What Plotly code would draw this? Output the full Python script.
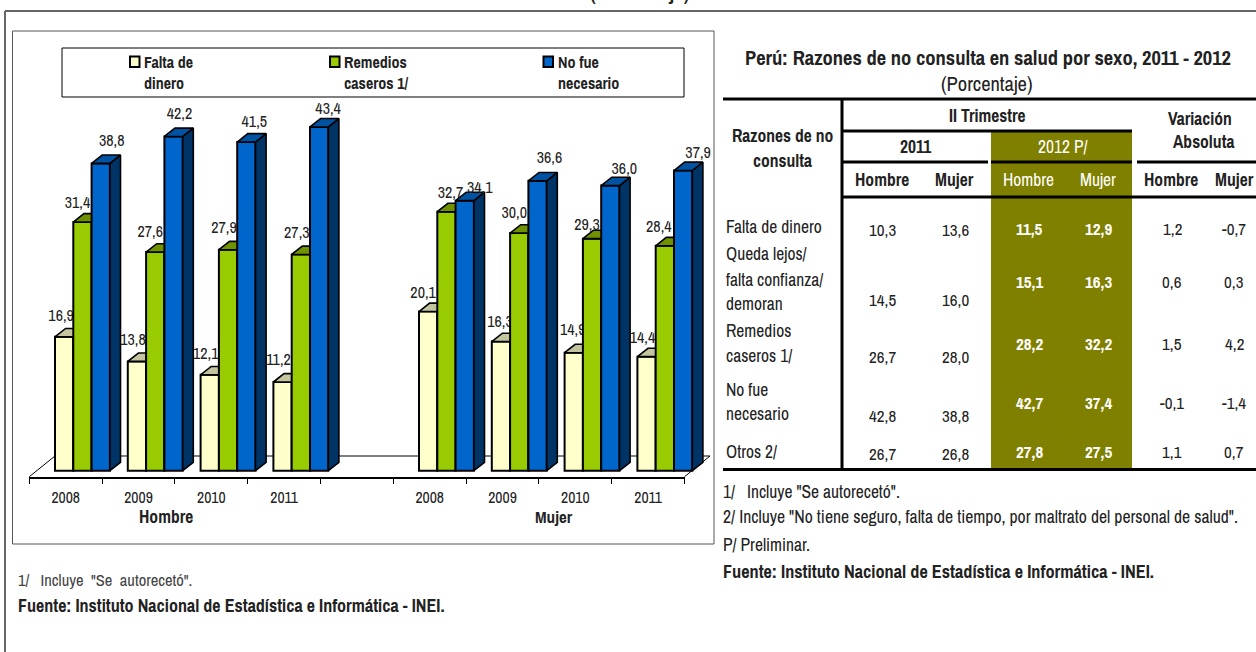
import plotly.graph_objects as go

W, H = 1256, 652
FONT = "Liberation Sans Narrow, Arial Narrow, Archivo Narrow, sans-serif"
INK = "#222222"

# ---------- chart data ----------
years = ["2008", "2009", "2010", "2011", "", "2008", "2009", "2010", "2011"]
slots = [0, 1, 2, 3, 5, 6, 7, 8]
falta = [16.9, 13.8, 12.1, 11.2, 20.1, 16.3, 14.9, 14.4]
remedios = [31.4, 27.6, 27.9, 27.3, 32.7, 30.0, 29.3, 28.4]
no_fue = [38.8, 42.2, 41.5, 43.4, 34.1, 36.6, 36.0, 37.9]

# value labels were placed by hand in the original: nudges and lifts in px
nudge_falta = [-3, -4, -4, -4, -5, -1, -1, -4]
nudge_remedios = [-5, -5, -4, -4, 4, -5, -5, -6]
nudge_no_fue = [11, 6, 8, 9, 15, 12, 14, 15]
lift_falta = [20, 20, 20, 21, 17, 19, 22, 18]
lift_remedios = [18, 19, 21, 20, 18, 19, 13, 18]
lift_no_fue = [21, 21, 19, 17, 12, 22, 16, 17]

# ---------- table data ----------
row_labels = ["Falta de dinero", "Queda lejos/", "falta confianza/", "demoran",
              "Remedios", "caseros 1/", "No fue", "necesario", "Otros 2/"]
h2011 = ["10,3", "14,5", "26,7", "42,8", "26,7"]
m2011 = ["13,6", "16,0", "28,0", "38,8", "26,8"]
h2012 = ["11,5", "15,1", "28,2", "42,7", "27,8"]
m2012 = ["12,9", "16,3", "32,2", "37,4", "27,5"]
var_h = ["1,2", "0,6", "1,5", "-0,1", "1,1"]
var_m = ["-0,7", "0,3", "4,2", "-1,4", "0,7"]

# ---------- layout geometry ----------
CAT = 72.8          # px per category
UNIT = 7.92         # px per value unit
FLOOR_X, FLOOR_Y = 29.3, 476.7
BAR_X, BAR_Y = 36.6, 470.7
YMIN, YMAX = -1, 50
XMAX = 9.5
BAR_W = 0.2514
BAR_GAP = 0.2527
DX, DY = 10.6 / CAT, 8.4 / UNIT


def px(x):
    return x / W


def py(y):
    return 1 - y / H


fig = go.Figure()


def add_series(name, values, nudges, lifts, k, front, top, side, suffix):
    xs = [s + BAR_GAP + (k + 0.5) * BAR_W for s in slots]
    poly_top_x, poly_top_y, poly_side_x, poly_side_y = [], [], [], []
    for c, v in zip(xs, values):
        l, r = c - BAR_W / 2, c + BAR_W / 2
        poly_top_x += [l, l + DX, r + DX, r, l, None]
        poly_top_y += [v, v + DY, v + DY, v, v, None]
        poly_side_x += [r, r + DX, r + DX, r, r, None]
        poly_side_y += [0, DY, v + DY, v, 0, None]
    ax = dict(xaxis="x" + suffix, yaxis="y" + suffix)
    fig.add_trace(go.Bar(x=xs, y=values, width=BAR_W, name=name, showlegend=False,
                         marker=dict(color=front, line=dict(color="black", width=2)), **ax))
    fig.add_trace(go.Scatter(x=poly_side_x, y=poly_side_y, mode="lines", fill="toself",
                             fillcolor=side, line=dict(color="black", width=1.6),
                             showlegend=False, hoverinfo="skip", **ax))
    fig.add_trace(go.Scatter(x=poly_top_x, y=poly_top_y, mode="lines", fill="toself",
                             fillcolor=top, line=dict(color="black", width=1.6),
                             showlegend=False, hoverinfo="skip", **ax))
    fig.add_trace(go.Scatter(x=[c + n / CAT for c, n in zip(xs, nudges)],
                             y=[v + d / UNIT for v, d in zip(values, lifts)],
                             text=[f"{v:.1f}".replace(".", ",") for v in values],
                             mode="text", textposition="middle center", cliponaxis=False,
                             textfont=dict(family=FONT, size=16, color=INK),
                             showlegend=False, hoverinfo="skip", **ax))


# floor axis with ticks and year labels
fig.add_trace(go.Scatter(x=[0, 9], y=[0, 0], mode="lines", line=dict(color="rgba(0,0,0,0)"),
                         showlegend=False, hoverinfo="skip"))
add_series("Falta de dinero", falta, nudge_falta, lift_falta, 0, "#FFFFCC", "#C4C49E", "#9A9A7A", "2")
add_series("Remedios caseros 1/", remedios, nudge_remedios, lift_remedios, 1, "#99CC00", "#6F9300", "#5A7A00", "3")
add_series("No fue necesario", no_fue, nudge_no_fue, lift_no_fue, 2, "#0066CC", "#0052A3", "#003366", "4")

shapes = []


def line(x0, y0, x1, y1, color="black", width=1, layer="below"):
    shapes.append(dict(type="line", xref="paper", yref="paper", x0=px(x0), y0=py(y0),
                       x1=px(x1), y1=py(y1), line=dict(color=color, width=width), layer=layer))


def rect(x0, y0, x1, y1, fill=None, color=None, width=0, layer="below"):
    shapes.append(dict(type="rect", xref="paper", yref="paper", x0=px(x0), y0=py(y0),
                       x1=px(x1), y1=py(y1), fillcolor=fill or "rgba(0,0,0,0)",
                       line=dict(color=color or "rgba(0,0,0,0)", width=width), layer=layer))


annots = []


def text(x, y, s, size=16, bold=False, color=INK, anchor="center"):
    annots.append(dict(xref="paper", yref="paper", x=px(x), y=py(y),
                       text=f"<b>{s}</b>" if bold else s, showarrow=False,
                       xanchor=anchor, yanchor="middle", borderpad=0, borderwidth=0,
                       font=dict(family=FONT, size=size, color=color)))


# outer frame and chart box
line(5, 11, 1256, 11, "#666666", 2)
line(5, 11, 5, 652, "#666666", 2)
rect(12.5, 31, 714, 544, color="#555555", width=1)

# floor
line(FLOOR_X, FLOOR_Y, FLOOR_X + 25.7, 456, "black", 1)
line(FLOOR_X + 25.7, 456, 710, 456, "black", 1)
line(FLOOR_X + 9 * CAT, FLOOR_Y, 710, 456, "black", 1)

# legend
rect(62, 48, 684, 97, fill="white", color="black", width=1)
for x0, col, lines_, tx in [(130, "#FFFFCC", ["Falta de", "dinero"], 144),
                            (330, "#99CC00", ["Remedios", "caseros 1/"], 344),
                            (543.5, "#0066CC", ["No fue", "necesario"], 558)]:
    rect(x0, 56.5, x0 + 9.5, 67, fill=col, color="black", width=2)
    text(tx, 62, lines_[0], 16, True, anchor="left")
    text(tx, 82.5, lines_[1], 16, True, anchor="left")

text(166, 516.7, "Hombre", 17.5, True)
text(554, 516.7, "Mujer", 17, True)

# clipped page title and footnotes of the chart
text(639.5, -7, "(Porcentaje)", 21, True)
text(18, 580, "1/&nbsp;&nbsp;&nbsp;Incluye&nbsp;&nbsp;\"Se&nbsp;&nbsp;autorecetó\".", 16.5, False, "#444444", "left")
text(18, 605.7, "Fuente: Instituto Nacional de Estadística e Informática - INEI.", 18, True, anchor="left")

# table
text(988, 57, "Perú: Razones de no consulta en salud por sexo, 2011 - 2012", 20.5, True)
text(987, 83, "(Porcentaje)", 20.5)
rect(991, 131, 1132, 468, fill="#808000")
line(723, 99, 1256, 99, "black", 3)
line(842, 99, 842, 471, "black", 3)
line(842, 131, 1132, 131, "black", 3)
line(842, 162, 988, 162, "black", 3)
line(991, 162, 1132, 162, "black", 3)
line(1137, 162, 1256, 162, "black", 3)
line(842, 197, 1256, 197, "black", 3)
line(723, 469.5, 1256, 469.5, "black", 3)

text(987, 116, "II Trimestre", 17.5, True)
text(783, 135, "Razones de no", 17.5, True)
text(783, 160, "consulta", 17.5, True)
text(1200, 118, "Variación", 17.5, True)
text(1203, 142, "Absoluta", 17.5, True)
text(915.5, 146, "2011", 17.5, True)
text(1062, 146, "2012 P/", 17.5, False, "white")
for cx, lab, col, b in [(882, "Hombre", INK, True), (954, "Mujer", INK, True), (1028, "Hombre", "white", False),
                        (1098, "Mujer", "white", False), (1171, "Hombre", INK, True), (1234.5, "Mujer", INK, True)]:
    text(cx, 180, lab, 17.5, b, col)

for lab, y in zip(row_labels, [226, 254, 279, 303, 331, 355, 389, 413, 451]):
    text(726, y, lab, 17.5, anchor="left")

ys_2011 = [229, 299, 356, 415, 453]
ys_2012 = [228, 281, 344, 402, 451]
for vals, cx, ys, col in [(h2011, 882, ys_2011, INK), (m2011, 955, ys_2011, INK),
                          (h2012, 1029, ys_2012, "white"), (m2012, 1098, ys_2012, "white"),
                          (var_h, 1172, ys_2012, INK), (var_m, 1234, ys_2012, INK)]:
    for v, y in zip(vals, ys):
        text(cx, y, v, 17, col == "white", col)

text(723, 491, "1/&nbsp;&nbsp;&nbsp;Incluye \"Se autorecetó\".", 17.5, anchor="left")
text(723, 517, "2/ Incluye \"No tiene seguro, falta de tiempo, por maltrato del personal de salud\".", 17.7, anchor="left")
text(723, 544, "P/ Preliminar.", 17.5, anchor="left")
text(723, 571, "Fuente: Instituto Nacional de Estadística e Informática - INEI.", 18.2, True, anchor="left")

# axes
x_dom = [px(FLOOR_X), px(FLOOR_X + 9 * CAT)]
y_dom = [py(FLOOR_Y), py(FLOOR_Y - 50 * UNIT)]
bx_dom = [px(BAR_X), px(BAR_X + XMAX * CAT)]
by_dom = [py(BAR_Y - YMIN * UNIT), py(BAR_Y - YMAX * UNIT)]
hidden = dict(visible=False, showgrid=False, zeroline=False)

fig.update_layout(
    width=W, height=H, margin=dict(l=0, r=0, t=0, b=0),
    paper_bgcolor="white", plot_bgcolor="rgba(0,0,0,0)", autosize=False,
    barmode="overlay", showlegend=False, shapes=shapes, annotations=annots,
    xaxis=dict(domain=x_dom, range=[0, 9], anchor="y", showgrid=False, zeroline=False,
               showline=True, linecolor="black", linewidth=1.5,
               tickvals=[i + 0.5 for i in range(9)], ticktext=years,
               ticks="outside", ticklen=6, tickcolor="rgba(0,0,0,0)",
               minor=dict(tickvals=list(range(10)), ticks="outside", ticklen=6,
                          tickcolor="black", tickwidth=1),
               tickfont=dict(family=FONT, size=15.7, color=INK)),
    yaxis=dict(domain=y_dom, range=[0, 50], anchor="x", **hidden),
    xaxis2=dict(domain=bx_dom, range=[0, XMAX], anchor="y2", **hidden),
    yaxis2=dict(domain=by_dom, range=[YMIN, YMAX], anchor="x2", **hidden),
    xaxis3=dict(overlaying="x2", range=[0, XMAX], anchor="y3", **hidden),
    yaxis3=dict(overlaying="y2", range=[YMIN, YMAX], anchor="x3", **hidden),
    xaxis4=dict(overlaying="x2", range=[0, XMAX], anchor="y4", **hidden),
    yaxis4=dict(overlaying="y2", range=[YMIN, YMAX], anchor="x4", **hidden),
)

fig.write_html("out.html",
               post_script="document.body.style.margin='0';document.body.style.overflow='hidden';",
               config=dict(displayModeBar=False))
